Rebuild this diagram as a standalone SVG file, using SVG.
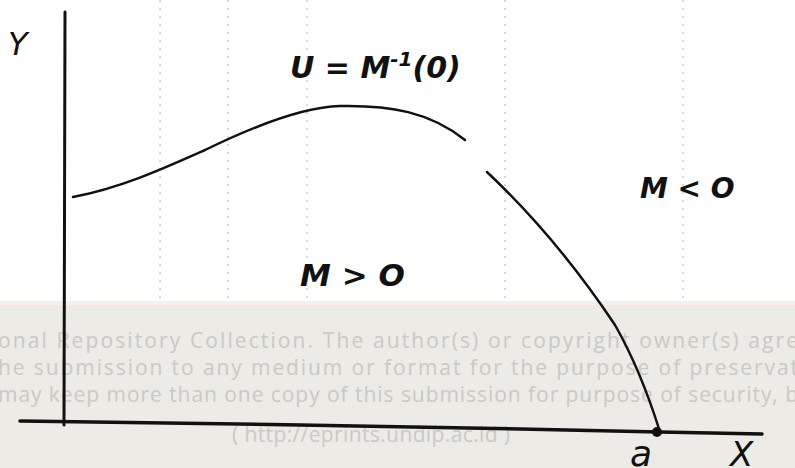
<svg xmlns="http://www.w3.org/2000/svg" width="795" height="468" viewBox="0 0 795 468">
<style>
.ink{fill:none;stroke:#111;stroke-linecap:round;stroke-linejoin:round}
.hand{font-family:"DejaVu Sans",sans-serif;font-style:italic;fill:#111}
.wm{font-family:"Open Sans","Noto Sans",sans-serif;font-size:21px;fill:#c9c9c6}
.scan{stroke:#b0b0b0;stroke-width:1;stroke-dasharray:2 6;fill:none}
</style>
<rect width="795" height="468" fill="#ffffff"/>
<g id="scan-lines">
<path class="scan" d="M160 0V468M228 0V468M307 0V468M505 0V468M683 0V468"/>
</g>
<g id="watermark">
<rect x="0" y="304" width="795" height="164" fill="#ecebe5"/>
<rect x="0" y="301" width="795" height="4" fill="#fbeee6"/>
<text class="wm" x="-2" y="348" textLength="800" lengthAdjust="spacing">onal Repository Collection. The author(s) or copyright owner(s) agre</text>
<text class="wm" x="-2" y="375" textLength="800" lengthAdjust="spacing">he submission to any medium or format for the purpose of preservat</text>
<text class="wm" x="-2" y="402" textLength="800" lengthAdjust="spacing">may keep more than one copy of this submission for purpose of security, b</text>
<text class="wm" x="232" y="442" textLength="278" lengthAdjust="spacing">( http://eprints.undip.ac.id )</text>
</g>
<g id="axes">
<path class="ink" d="M65 12L64 425" stroke-width="3"/>
<path class="ink" d="M20 421L300 425L520 429L660 432L762 434" stroke-width="3.5"/>
</g>
<g id="curve">
<path class="ink" stroke-width="2.5" d="M73 197C120 188 160 170 205 150C250 128 300 107 340 106C390 105 430 112 465 140"/>
<path class="ink" stroke-width="2.5" d="M487 172C540 222 585 280 615 325C635 360 650 400 660 432"/>
<circle cx="657" cy="432" r="5" fill="#111"/>
</g>
<g id="labels">
<text class="hand" x="8" y="55" font-size="32">Y</text>
<text class="hand" x="290" y="78" font-size="30" font-weight="bold">U = M<tspan font-size="20" dy="-12">-1</tspan><tspan dy="12">(0)</tspan></text>
<text class="hand" x="640" y="198" font-size="28" font-weight="bold">M &lt; O</text>
<text class="hand" x="300" y="286" font-size="31" font-weight="bold">M &gt; O</text>
<text class="hand" x="630" y="466" font-size="36">a</text>
<text class="hand" x="730" y="466" font-size="34">X</text>
</g>
</svg>
